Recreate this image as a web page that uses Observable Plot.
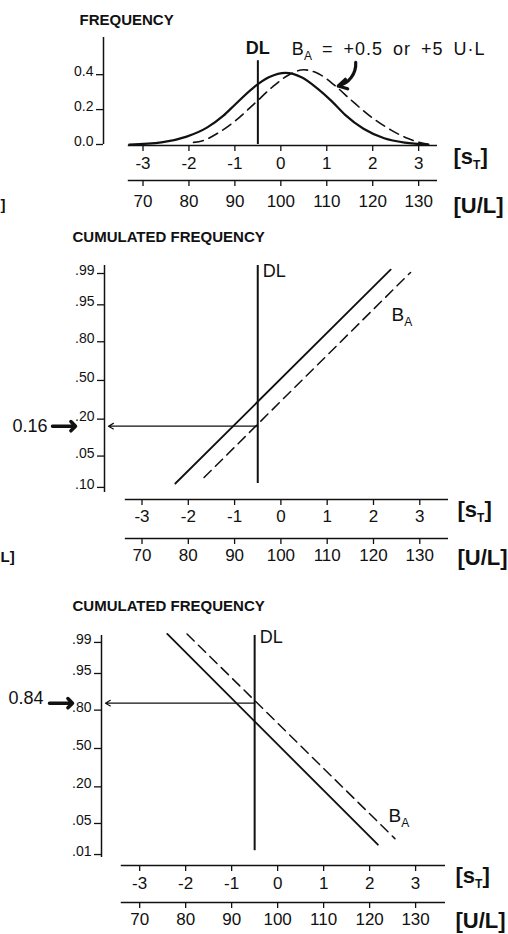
<!DOCTYPE html>
<html>
<head>
<meta charset="utf-8">
<script src="https://cdn.jsdelivr.net/npm/d3@7"></script>
<script src="https://cdn.jsdelivr.net/npm/@observablehq/plot@0.6"></script>
<style>
html, body { margin: 0; padding: 0; background: #fff; }
#root { position: relative; width: 508px; height: 934px; overflow: hidden; background: #fff; }
#root > svg { position: absolute; left: 0; }
</style>
</head>
<body>
<div id="root"></div>
<script>
// ---------------- data ----------------
const sTicks = [-3, -2, -1, 0, 1, 2, 3];
const sTickLabels = ["-3", "-2", "-1", "0", "1", "2", "3"];
const ulTicks = [70, 80, 90, 100, 110, 120, 130];
const ulTickLabels = ["70", "80", "90", "100", "110", "120", "130"];
const ulAtZero = 100;   // U/L at s_T = 0
const ulPerS = 10;      // U/L per s_T unit

const freqTicks = [0, 0.2, 0.4];
const freqTickLabels = ["0.0", "0.2", "0.4"];
const cumTicks = [0.99, 0.95, 0.80, 0.50, 0.20, 0.05, 0.01];
const cumTickLabelsB = [".99", ".95", ".80", ".50", ".20", ".05", ".10"];
const cumTickLabelsC = [".99", ".95", ".80", ".50", ".20", ".05", ".01"];

const detectionLimit = -0.5;          // DL, in s_T

// panel A: frequency curves
const freqSolidS = [-3.3, -2.6, -2.05, -1.6, -1.25, -1.0, -0.6, -0.25, 0.1, 0.45, 0.8, 1.1, 1.4, 1.8, 2.25, 2.7, 3.2];
const freqSolidF = [0.0, 0.012, 0.045, 0.098, 0.165, 0.228, 0.325, 0.386, 0.41, 0.385, 0.32, 0.25, 0.17, 0.09, 0.036, 0.011, 0.0];
const freqDashedS = [-1.9, -1.7, -1.33, -0.98, -0.58, -0.18, 0.18, 0.5, 0.83, 1.18, 1.54, 1.97, 2.41, 2.77, 3.0, 3.25];
const freqDashedF = [0.012, 0.022, 0.072, 0.138, 0.233, 0.33, 0.40, 0.428, 0.404, 0.337, 0.252, 0.157, 0.081, 0.034, 0.013, 0.0];
const freqDLTop = 0.48;

// panel B: cumulated frequency lines (end points)
const cumBSolidS = [-2.28, 2.37];  const cumBSolidP = [0.0125, 0.992];
const cumBDashedS = [-1.66, 2.80]; const cumBDashedP = [0.0174, 0.9906];
const readOffB = 0.16;

// panel C: cumulated frequency lines (end points)
const cumCSolidS = [-2.40, 2.18];  const cumCSolidP = [0.994, 0.0174];
const cumCDashedS = [-1.97, 2.55]; const cumCDashedP = [0.994, 0.024];
const readOffC = 0.84;

const dlBottomP = 0.0125;

// ---------------- helpers ----------------
function probit(p) {
  const a = [-3.969683028665376e+01, 2.209460984245205e+02, -2.759285104469687e+02, 1.383577518672690e+02, -3.066479806614716e+01, 2.506628277459239e+00];
  const b = [-5.447609879822406e+01, 1.615858368580409e+02, -1.556989798598866e+02, 6.680131188771972e+01, -1.328068155288572e+01];
  const c = [-7.784894002430293e-03, -3.223964580411365e-01, -2.400758277161838e+00, -2.549732539343734e+00, 4.374664141464968e+00, 2.938163982698783e+00];
  const d = [7.784695709041462e-03, 3.224671290700398e-01, 2.445134137142996e+00, 3.754408661907416e+00];
  const pl = 0.02425, ph = 1 - pl;
  let q, r;
  if (p < pl) { q = Math.sqrt(-2 * Math.log(p)); return (((((c[0]*q+c[1])*q+c[2])*q+c[3])*q+c[4])*q+c[5]) / ((((d[0]*q+d[1])*q+d[2])*q+d[3])*q+1); }
  if (p <= ph) { q = p - 0.5; r = q*q; return (((((a[0]*r+a[1])*r+a[2])*r+a[3])*r+a[4])*r+a[5])*q / (((((b[0]*r+b[1])*r+b[2])*r+b[3])*r+b[4])*r+1); }
  q = Math.sqrt(-2 * Math.log(1 - p));
  return -(((((c[0]*q+c[1])*q+c[2])*q+c[3])*q+c[4])*q+c[5]) / ((((d[0]*q+d[1])*q+d[2])*q+d[3])*q+1);
}
const ulToS = v => (v - ulAtZero) / ulPerS;
const FONT = '"Liberation Sans", Arial, Helvetica, sans-serif';
const INK = "#111";

function subscript(svg, marker, parts) {
  for (const t of svg.querySelectorAll("text")) {
    if (t.textContent !== marker) continue;
    t.textContent = "";
    for (const p of parts) {
      const ts = document.createElementNS("http://www.w3.org/2000/svg", "tspan");
      ts.textContent = p.t;
      if (p.size) ts.setAttribute("font-size", p.size);
      if (p.dy) ts.setAttribute("dy", p.dy);
      if (p.dx) ts.setAttribute("dx", p.dx);
      if (p.ls) ts.setAttribute("letter-spacing", p.ls);
      if (p.ws) ts.setAttribute("word-spacing", p.ws);
      t.appendChild(ts);
    }
  }
}

// common axes for one panel
function axes(cfg) {
  const frameH = cfg.height - cfg.mt - cfg.mb;
  const frameW = 508 - cfg.ml - cfg.mr;
  const [x0, x1] = cfg.xDomain;
  const yBase = cfg.yDomain[0];
  const mid = {lineAnchor: "middle", fill: INK};
  return [
    // left axis
    Plot.ruleX([x0], {stroke: INK, strokeWidth: 1.5}),
    Plot.ruleY(cfg.yTicks, {y: d => d, insetLeft: -7, insetRight: frameW, stroke: INK, strokeWidth: 1.3}),
    Plot.text(cfg.yTicks, {y: d => d, frameAnchor: "left", textAnchor: "end", dx: -10, dy: -3,
      text: (d, i) => cfg.yLabels[i], fontSize: 14, ...mid}),
    // s_T axis
    Plot.ruleY([yBase], {x1: cfg.axisStart, x2: x1, dy: cfg.sDy, stroke: INK, strokeWidth: 1.5}),
    Plot.ruleX(sTicks, {x: d => d, insetTop: frameH, insetBottom: -6, dy: cfg.sDy, stroke: INK, strokeWidth: 1.3}),
    Plot.text(sTicks, {x: d => d, frameAnchor: "bottom", dy: cfg.sLabDy, text: (d, i) => sTickLabels[i], fontSize: 17, ...mid}),
    Plot.text(["[sT]"], {frameAnchor: "bottom-right", textAnchor: "start", dx: cfg.unitDx, dy: cfg.sUnitDy,
      text: d => d, fontSize: 22, fontWeight: "bold", ...mid}),
    // U/L axis
    Plot.ruleY([yBase], {x1: cfg.axisStart, x2: x1, dy: cfg.uDy, stroke: INK, strokeWidth: 1.5}),
    Plot.ruleX(ulTicks, {x: d => ulToS(d), insetTop: frameH, insetBottom: -6, dy: cfg.uDy, stroke: INK, strokeWidth: 1.3}),
    Plot.text(ulTicks, {x: d => ulToS(d), frameAnchor: "bottom", dy: cfg.uLabDy, text: (d, i) => ulTickLabels[i], fontSize: 17, ...mid}),
    Plot.text(["[U/L]"], {frameAnchor: "bottom-right", textAnchor: "start", dx: cfg.unitDx, dy: cfg.uUnitDy,
      text: d => d, fontSize: 22, fontWeight: "bold", ...mid}),
    // title
    Plot.text([cfg.title], {frameAnchor: "top-left", textAnchor: "start", dx: cfg.titleDx, dy: cfg.titleDy,
      text: d => d, fontSize: 15, fontWeight: "bold", ...mid}),
    // fragment of the neighbouring figure's unit label (left edge)
    Plot.text([cfg.fragment], {frameAnchor: "bottom-left", textAnchor: "start", dx: -cfg.ml, dy: cfg.uUnitDy,
      text: d => d, fontSize: 15, fontWeight: "bold", ...mid})
  ];
}

function makePlot(cfg, marks) {
  const svg = Plot.plot({
    width: 508, height: cfg.height,
    marginTop: cfg.mt, marginBottom: cfg.mb, marginLeft: cfg.ml, marginRight: cfg.mr,
    x: {domain: cfg.xDomain, axis: null},
    y: {domain: cfg.yDomain, axis: null},
    style: {fontFamily: FONT, color: INK, background: "transparent", overflow: "hidden"},
    marks: [...axes(cfg), ...marks]
  });
  svg.style.top = cfg.top + "px";
  subscript(svg, "[sT]", [{t: "[s"}, {t: "T", size: 12, dy: 5}, {t: "]", dy: -5}]);
  return svg;
}

const root = document.getElementById("root");

// ---------------- panel A: frequency ----------------
const cfgA = {
  top: 0, height: 225, mt: 37, mb: 81, ml: 103, mr: 71,
  xDomain: [-3.86, 3.41], yDomain: [0, 0.613], axisStart: -3.32,
  yTicks: freqTicks, yLabels: freqTickLabels,
  sDy: 1, sLabDy: 19, uDy: 36, uLabDy: 57, unitDx: 16, sUnitDy: 12, uUnitDy: 61,
  title: "FREQUENCY", titleDx: -24, titleDy: -17, fragment: "]"
};
const solidA = freqSolidS.map((s, i) => ({s, f: freqSolidF[i]}));
const dashedA = freqDashedS.map((s, i) => ({s, f: freqDashedF[i]}));
const annotArrowA = [{s1: 1.63, f1: 0.47, s2: 1.25, f2: 0.335}];
const labelBA_A = {s: 0.24, f: 0.545};
const svgA = makePlot(cfgA, [
  Plot.line(solidA, {x: "s", y: "f", curve: "monotone-x", stroke: INK, strokeWidth: 2.2}),
  Plot.line(dashedA, {x: "s", y: "f", curve: "monotone-x", stroke: INK, strokeWidth: 1.6, strokeDasharray: "10,6"}),
  Plot.ruleX([detectionLimit], {y1: 0, y2: freqDLTop, stroke: INK, strokeWidth: 2}),
  Plot.text(["DL"], {x: detectionLimit, y: freqDLTop, dy: -12, text: d => d, fontSize: 18, fontWeight: "bold", fill: INK}),
  Plot.text(["BA_LABEL"], {x: labelBA_A.s, y: labelBA_A.f, textAnchor: "start", text: d => d, fontSize: 18, fill: INK}),
  Plot.arrow(annotArrowA, {x1: "s1", y1: "f1", x2: "s2", y2: "f2", bend: 40, stroke: INK, strokeWidth: 3.2, headLength: 7})
]);
subscript(svgA, "BA_LABEL", [{t: "B"}, {t: "A", size: 12, dy: 5}, {t: "= +0.5 or +5 U·L", dy: -5, dx: 10, ls: 1, ws: 4}]);
root.appendChild(svgA);

// ---------------- panel B: cumulated frequency (lower tail) ----------------
const cfgB = {
  top: 225, height: 355, mt: 40, mb: 88, ml: 104, mr: 60,
  xDomain: [-3.81, 3.62], yDomain: [probit(0.0074), probit(0.9938)], axisStart: -3.36,
  yTicks: cumTicks.map(probit), yLabels: cumTickLabelsB,
  sDy: 7, sLabDy: 24, uDy: 46, uLabDy: 63, unitDx: 9, sUnitDy: 17, uUnitDy: 65,
  title: "CUMULATED FREQUENCY", titleDx: -32, titleDy: -28, fragment: "L]"
};
const solidB = cumBSolidS.map((s, i) => ({s, z: probit(cumBSolidP[i])}));
const dashedB = cumBDashedS.map((s, i) => ({s, z: probit(cumBDashedP[i])}));
const svgB = makePlot(cfgB, [
  Plot.line(solidB, {x: "s", y: "z", stroke: INK, strokeWidth: 1.8}),
  Plot.line(dashedB, {x: "s", y: "z", stroke: INK, strokeWidth: 1.5, strokeDasharray: "10,6"}),
  Plot.ruleX([detectionLimit], {y1: probit(dlBottomP), y2: cfgB.yDomain[1], stroke: INK, strokeWidth: 2}),
  Plot.text(["DL"], {x: detectionLimit, y: cfgB.yDomain[1], dx: 5, dy: 6, textAnchor: "start", text: d => d, fontSize: 18, fill: INK}),
  Plot.text(["BA_SHORT"], {x: 2.39, y: probit(0.924), textAnchor: "start", text: d => d, fontSize: 19, fill: INK}),
  Plot.arrow([readOffB], {x1: detectionLimit, x2: cfgB.xDomain[0], y1: d => probit(d), y2: d => probit(d),
    insetEnd: 4, headLength: 7, stroke: INK, strokeWidth: 1.2}),
  Plot.text([readOffB], {y: d => probit(d), frameAnchor: "left", textAnchor: "end", dx: -57, text: d => d.toFixed(2), fontSize: 18, fill: INK}),
  Plot.vector([readOffB], {x: cfgB.xDomain[0], y: d => probit(d), dx: -29, length: 23, rotate: 90, anchor: "end", stroke: INK, strokeWidth: 3.5})
]);
subscript(svgB, "BA_SHORT", [{t: "B"}, {t: "A", size: 12, dy: 5}]);
root.appendChild(svgB);

// ---------------- panel C: cumulated frequency (upper tail) ----------------
const cfgC = {
  top: 580, height: 354, mt: 55, mb: 77, ml: 101, mr: 63,
  xDomain: [-3.83, 3.65], yDomain: [probit(0.0084), probit(0.9934)], axisStart: -3.4,
  yTicks: cumTicks.map(probit), yLabels: cumTickLabelsC,
  sDy: 8, sLabDy: 26, uDy: 45, uLabDy: 62, unitDx: 10, sUnitDy: 18, uUnitDy: 63,
  title: "CUMULATED FREQUENCY", titleDx: -29, titleDy: -29.5, fragment: ""
};
const solidC = cumCSolidS.map((s, i) => ({s, z: probit(cumCSolidP[i])}));
const dashedC = cumCDashedS.map((s, i) => ({s, z: probit(cumCDashedP[i])}));
const svgC = makePlot(cfgC, [
  Plot.line(solidC, {x: "s", y: "z", stroke: INK, strokeWidth: 1.8}),
  Plot.line(dashedC, {x: "s", y: "z", stroke: INK, strokeWidth: 1.5, strokeDasharray: "10,6"}),
  Plot.ruleX([detectionLimit], {y1: probit(dlBottomP), y2: cfgC.yDomain[1], stroke: INK, strokeWidth: 2}),
  Plot.text(["DL"], {x: detectionLimit, y: cfgC.yDomain[1], dx: 5, dy: 2, textAnchor: "start", text: d => d, fontSize: 18, fill: INK}),
  Plot.text(["BA_SHORT"], {x: 2.41, y: probit(0.071), textAnchor: "start", text: d => d, fontSize: 19, fill: INK}),
  Plot.arrow([readOffC], {x1: detectionLimit, x2: cfgC.xDomain[0], y1: d => probit(d), y2: d => probit(d),
    insetEnd: 4, headLength: 7, stroke: INK, strokeWidth: 1.2}),
  Plot.text([readOffC], {y: d => probit(d), frameAnchor: "left", textAnchor: "end", dx: -58, dy: -5, text: d => d.toFixed(2), fontSize: 18, fill: INK}),
  Plot.vector([readOffC], {x: cfgC.xDomain[0], y: d => probit(d), dx: -29, length: 23, rotate: 90, anchor: "end", stroke: INK, strokeWidth: 3.5})
]);
subscript(svgC, "BA_SHORT", [{t: "B"}, {t: "A", size: 12, dy: 5}]);
root.appendChild(svgC);
</script>
</body>
</html>
